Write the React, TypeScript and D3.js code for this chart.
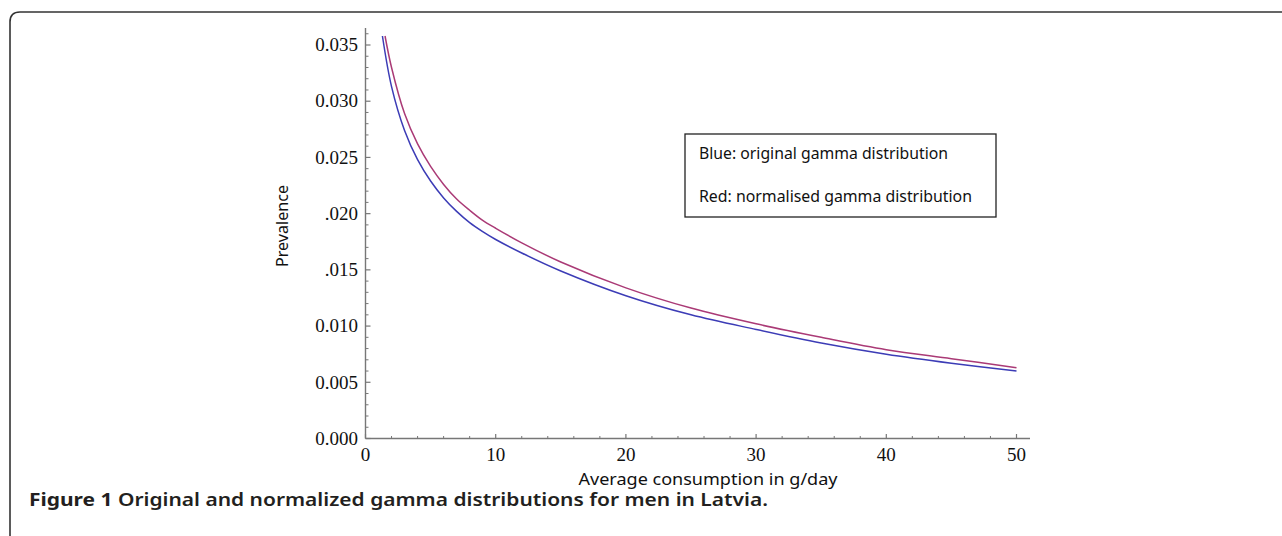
import React from "react";
import * as d3 from "d3";

const blueX = [1.3, 2, 3, 4, 5, 6, 7, 8, 9, 10, 12, 15, 20, 25, 30, 35, 40, 45, 50];
const blueY = [0.0358, 0.0313, 0.0274, 0.0248, 0.0229, 0.0214, 0.0202, 0.0192, 0.0184, 0.0177, 0.0165, 0.0149, 0.0127, 0.011, 0.0097, 0.0085, 0.0075, 0.0067, 0.006];
const redX = [1.5, 2, 3, 4, 5, 6, 7, 8, 9, 10, 12, 15, 20, 25, 30, 35, 40, 45, 50];
const redY = [0.0358, 0.033, 0.0289, 0.0262, 0.0242, 0.0226, 0.0213, 0.0203, 0.0194, 0.0187, 0.0174, 0.0157, 0.0134, 0.0116, 0.0102, 0.009, 0.0079, 0.0071, 0.0063];

const xTicks = [0, 10, 20, 30, 40, 50];
const yTicks = [0, 0.005, 0.01, 0.015, 0.02, 0.025, 0.03, 0.035];
const yTickLabels = ["0.000", "0.005", "0.010", ".015", ".020", "0.025", "0.030", "0.035"];
const legendLines = ["Blue: original gamma distribution", "Red: normalised gamma distribution"];
const xLabel = "Average consumption in g/day";
const yLabel = "Prevalence";
const captionBold = "Figure 1";
const captionRest = " Original and normalized gamma distributions for men in Latvia.";

const W = 1282;
const H = 536;

export default function App() {
  const x = d3.scaleLinear().domain([0, 50]).range([365.5, 1016.5]);
  const y = d3.scaleLinear().domain([0, 0.035]).range([438.5, 45]);

  const line = d3
    .line<[number, number]>()
    .x((d) => x(d[0]))
    .y((d) => y(d[1]))
    .curve(d3.curveCatmullRom.alpha(0.5));

  const blue: [number, number][] = blueX.map((v, i) => [v, blueY[i]]);
  const red: [number, number][] = redX.map((v, i) => [v, redY[i]]);

  const xMinor = d3.range(0, 51, 2).filter((v) => v % 10 !== 0);
  const yMinor = d3.range(0, 37).map((v) => v * 0.001).filter((_, i) => i % 5 !== 0);

  const axisColor = "#777";
  const serif = "'Liberation Serif', 'Times New Roman', serif";
  const sans = "'Noto Sans', 'Open Sans', sans-serif";

  return (
    <svg
      width={W}
      height={H}
      style={{ position: "absolute", left: 0, top: 0, background: "#fff" }}
    >
      <rect x={0} y={0} width={W} height={H} fill="#fff" />
      <path d="M10,536 V22 Q10,12 20,12 H1282" fill="none" stroke="#333" strokeWidth={1.6} />

      {/* axes */}
      <line x1={x(0)} x2={1030} y1={y(0)} y2={y(0)} stroke={axisColor} strokeWidth={1.4} />
      <line x1={x(0)} x2={x(0)} y1={y(0)} y2={28} stroke={axisColor} strokeWidth={1.4} />

      {xTicks.map((t) => (
        <g key={"xt" + t}>
          <line x1={x(t)} x2={x(t)} y1={y(0)} y2={y(0) - 4.5} stroke={axisColor} strokeWidth={1.2} />
          <text x={x(t)} y={461} textAnchor="middle" fontFamily={serif} fontSize={19} fill="#111">
            {t}
          </text>
        </g>
      ))}
      {xMinor.map((t) => (
        <line key={"xm" + t} x1={x(t)} x2={x(t)} y1={y(0)} y2={y(0) - 2.5} stroke={axisColor} strokeWidth={1} />
      ))}

      {yTicks.map((t, i) => (
        <g key={"yt" + t}>
          <line x1={x(0)} x2={x(0) + 5} y1={y(t)} y2={y(t)} stroke={axisColor} strokeWidth={1.2} />
          <text
            x={358}
            y={y(t)}
            dy="0.33em"
            textAnchor="end"
            fontFamily={serif}
            fontSize={19}
            fill="#111"
          >
            {yTickLabels[i]}
          </text>
        </g>
      ))}
      {yMinor.map((t) => (
        <line key={"ym" + t} x1={x(0)} x2={x(0) + 3} y1={y(t)} y2={y(t)} stroke={axisColor} strokeWidth={1} />
      ))}

      {/* curves */}
      <path d={line(blue) || ""} fill="none" stroke="#3c3cb6" strokeWidth={1.5} />
      <path d={line(red) || ""} fill="none" stroke="#aa3a76" strokeWidth={1.5} />

      {/* legend */}
      <rect x={685} y={134} width={311} height={83} fill="#fff" stroke="#222" strokeWidth={1.3} />
      <text x={699} y={158.5} fontFamily={sans} fontSize={16} fill="#111" textLength={249} lengthAdjust="spacingAndGlyphs">
        {legendLines[0]}
      </text>
      <text x={699} y={201.5} fontFamily={sans} fontSize={16} fill="#111" textLength={273} lengthAdjust="spacingAndGlyphs">
        {legendLines[1]}
      </text>

      {/* axis labels */}
      <text x={708} y={485} textAnchor="middle" fontFamily={sans} fontSize={16} fill="#111" textLength={259} lengthAdjust="spacingAndGlyphs">
        {xLabel}
      </text>
      <text
        transform="translate(288,226) rotate(-90)"
        textAnchor="middle"
        fontFamily={sans}
        fontSize={16}
        fill="#111"
        textLength={82}
        lengthAdjust="spacingAndGlyphs"
      >
        {yLabel}
      </text>

      {/* caption */}
      <text x={29} y={506} fontFamily={sans} fontSize={17} fontWeight="bold" fill="#231f20" textLength={739} lengthAdjust="spacingAndGlyphs">
        <tspan>{captionBold}</tspan>
        <tspan fontWeight="600">{captionRest}</tspan>
      </text>
    </svg>
  );
}
